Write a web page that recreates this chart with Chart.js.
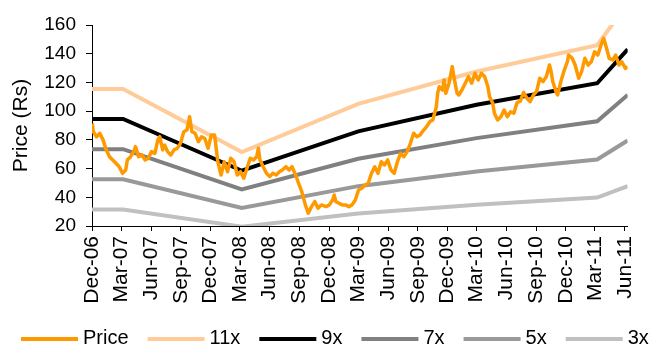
<!DOCTYPE html>
<html>
<head>
<meta charset="utf-8">
<script src="https://cdn.jsdelivr.net/npm/chart.js@4.4.1/dist/chart.umd.min.js"></script>
<style>
  html, body { margin: 0; padding: 0; background: #fff; }
  #wrap { width: 655px; height: 347px; position: relative; }
</style>
</head>
<body>
<div id="wrap"><canvas id="c"></canvas></div>
<script>
// Calendar days are counted from 1 Dec 2006.
const START = Date.UTC(2006, 11, 1);
const X_MAX = 1652;

const tickLabels = ['Dec-06', 'Mar-07', 'Jun-07', 'Sep-07', 'Dec-07', 'Mar-08', 'Jun-08',
  'Sep-08', 'Dec-08', 'Mar-09', 'Jun-09', 'Sep-09', 'Dec-09', 'Mar-10', 'Jun-10',
  'Sep-10', 'Dec-10', 'Mar-11', 'Jun-11'];

const priceDays = [1, 4, 14, 24, 34, 44, 54, 64, 74, 84, 94, 104, 109, 119, 129, 134, 144, 154,
  164, 174, 183, 194, 203, 209, 218, 224, 233, 243, 253, 263, 273, 283, 293, 301, 308, 318,
  328, 338, 348, 358, 368, 378, 383, 388, 398, 408, 418, 428, 438, 448, 458, 468, 478, 488,
  498, 508, 513, 518, 528, 538, 548, 558, 568, 578, 587, 598, 608, 617, 628, 637, 647, 658,
  667, 677, 687, 697, 707, 722, 732, 742, 747, 752, 762, 772, 782, 792, 802, 812, 822, 832,
  842, 852, 862, 872, 882, 892, 902, 912, 922, 932, 942, 952, 962, 972, 982, 992, 1002, 1012,
  1021, 1032, 1042, 1051, 1062, 1066, 1071, 1081, 1086, 1091, 1101, 1111, 1116, 1126, 1131,
  1141, 1151, 1161, 1171, 1181, 1191, 1201, 1211, 1221, 1226, 1236, 1241, 1251, 1261, 1271,
  1281, 1291, 1301, 1311, 1321, 1331, 1341, 1351, 1361, 1371, 1381, 1391, 1401, 1411, 1416,
  1421, 1431, 1436, 1446, 1455, 1466, 1470, 1481, 1490, 1501, 1510, 1520, 1530, 1540, 1550,
  1560, 1570, 1578, 1587, 1595, 1606, 1615, 1625, 1634, 1645, 1652];

const priceValues = [91.5, 85.7, 82.2, 84.6, 80, 73, 68.3, 66, 63.7, 61.3, 56.7, 59, 66, 68.3,
  71.8, 75.3, 68.3, 69.5, 66, 67.2, 71.8, 70.6, 80, 82.2, 73, 76.4, 71.8, 69.5, 73, 74.1, 77.6,
  85.7, 86.9, 96.1, 85.7, 84.6, 78.7, 82.2, 81, 74.1, 83.4, 83.4, 74.1, 64.8, 55.5, 64.8, 57.8,
  67.2, 64.8, 55.5, 57.8, 53.3, 60.2, 67.2, 66, 68.3, 74.1, 66, 61.3, 56.7, 54.4, 56.7, 55.5,
  57.8, 59, 61.3, 59, 61.3, 55.5, 49.8, 43.9, 34.7, 28.9, 33.5, 37, 32.4, 34.7, 33.5, 34.7,
  38.1, 41.6, 37, 35.8, 34.7, 34.7, 33.5, 34.7, 38.1, 45.1, 46.3, 48.6, 49.8, 56.7, 61.3, 56.7,
  64.8, 62.5, 66, 59, 56.7, 64.8, 70.6, 68.3, 71.8, 77.6, 84.6, 82.2, 83.4, 86.3, 89.2, 92.7,
  93.8, 103.1, 112.4, 117, 114.7, 121.7, 112.4, 119.4, 131, 124, 112.4, 111.3, 114.7, 119.4,
  124, 119.4, 126.4, 121.7, 126.4, 124, 117, 110.1, 105.5, 98.5, 93.8, 96.1, 100.8, 96.1, 99.6,
  98.5, 106, 107, 113, 109, 106.6, 111.3, 113.6, 122.9, 120.6, 124, 132.1, 127.5, 120.6, 113.6,
  111.3, 120.6, 127.5, 134.4, 139.1, 136.8, 132.1, 122.9, 127.5, 136.8, 132.1, 134.4, 141.4,
  139.1, 146.1, 150.7, 143.8, 136.8, 135.6, 139.1, 132.1, 134.4, 129.8, 131];

// Earnings per share at the band turning points; each band is a P/E multiple of it.
const epsDays = [0, 96, 462, 821, 1186, 1558, 1652];
const epsValues = [10.5, 10.5, 6.5, 9.55, 11.6, 13.27, 15.9];
const peMultiples = [11, 9, 7, 5, 3];

const MONTHS = { Jan: 0, Feb: 1, Mar: 2, Apr: 3, May: 4, Jun: 5, Jul: 6, Aug: 7, Sep: 8, Oct: 9, Nov: 10, Dec: 11 };
function labelToDay(lbl) {
  const [m, y] = lbl.split('-');
  return Math.round((Date.UTC(2000 + Number(y), MONTHS[m], 1) - START) / 86400000);
}

const FONT = '"Liberation Sans", Arial, sans-serif';
const bandStyles = [
  { color: '#FFCC99', width: 4 },
  { color: '#000000', width: 4 },
  { color: '#808080', width: 4 },
  { color: '#999999', width: 4 },
  { color: '#C0C0C0', width: 4 }
];

const datasets = [{
  label: 'Price',
  data: priceDays.map((d, i) => ({ x: d, y: priceValues[i] })),
  borderColor: '#FF9900',
  backgroundColor: '#FF9900',
  borderWidth: 3.5,
  borderJoinStyle: 'round',
  pointRadius: 0,
  tension: 0
}];
peMultiples.forEach((m, k) => {
  datasets.push({
    label: m + 'x',
    data: epsDays.map((d, i) => ({ x: d, y: epsValues[i] * m })),
    borderColor: bandStyles[k].color,
    backgroundColor: bandStyles[k].color,
    borderWidth: bandStyles[k].width,
    pointRadius: 0,
    tension: 0
  });
});

// Legend row drawn along the bottom edge.
const bottomLegend = {
  id: 'bottomLegend',
  afterDraw(chart) {
    const ctx = chart.ctx;
    ctx.save();
    ctx.font = '20px ' + FONT;
    ctx.textBaseline = 'middle';
    ctx.textAlign = 'left';
    let x = 21;
    const y = 338;
    chart.data.datasets.forEach(ds => {
      ctx.strokeStyle = ds.borderColor;
      ctx.lineWidth = 4;
      ctx.beginPath();
      ctx.moveTo(x, y + 1);
      ctx.lineTo(x + 57, y + 1);
      ctx.stroke();
      x += 62;
      ctx.fillStyle = '#000';
      ctx.fillText(ds.label, x, y);
      x += ctx.measureText(ds.label).width + 19;
    });
    ctx.restore();
  }
};

new Chart(document.getElementById('c'), {
  type: 'line',
  data: { datasets },
  plugins: [bottomLegend],
  options: {
    responsive: true,
    maintainAspectRatio: false,
    animation: false,
    layout: { padding: { top: 25, right: 11, left: 0, bottom: 0 } },
    plugins: { legend: { display: false }, tooltip: { enabled: false } },
    scales: {
      x: {
        type: 'linear',
        min: 0,
        max: X_MAX,
        afterBuildTicks: s => { s.ticks = tickLabels.map(l => ({ value: labelToDay(l) })); },
        afterFit: s => { s.height = 121; },
        ticks: {
          autoSkip: false,
          minRotation: 90,
          maxRotation: 90,
          padding: 5,
          color: '#000',
          font: { family: FONT, size: 21 },
          callback: (v, i) => tickLabels[i]
        },
        grid: { drawOnChartArea: false, drawTicks: true, tickLength: 5, color: '#000' },
        border: { color: '#000' }
      },
      y: {
        min: 20,
        max: 160,
        afterFit: s => { s.width = 92; },
        ticks: { stepSize: 20, padding: 10, color: '#000', font: { family: FONT, size: 19 } },
        grid: { drawOnChartArea: false, drawTicks: true, tickLength: 6, color: '#000' },
        border: { color: '#000' },
        title: { display: true, text: 'Price (Rs)', color: '#000', font: { family: FONT, size: 21 }, padding: { top: 9, bottom: 0 } }
      }
    }
  }
});
</script>
</body>
</html>
